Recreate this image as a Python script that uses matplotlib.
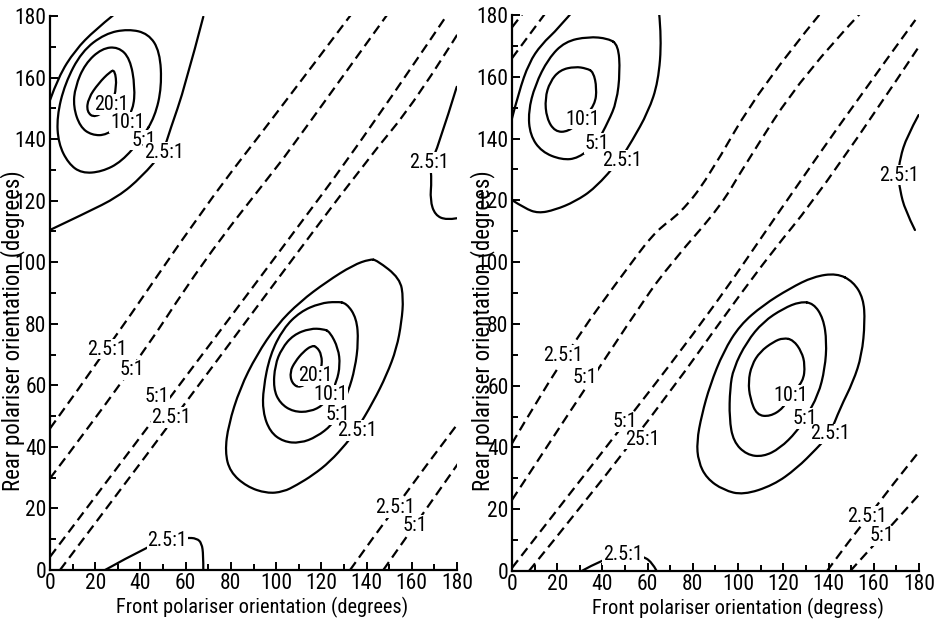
import numpy as np
import matplotlib
matplotlib.use("Agg")
import matplotlib.pyplot as plt
from matplotlib import font_manager as fm
from matplotlib.path import Path
from matplotlib.patches import PathPatch

plt.rcParams["lines.scale_dashes"] = False


def pick_narrow_font():
    """Prefer a narrow sans face for the lettering; fall back to DejaVu Sans."""
    wanted = ("Liberation Sans Narrow", "Roboto Condensed", "Open Sans Condensed",
              "DejaVu Sans Condensed", "Noto Sans Condensed")
    entries = fm.fontManager.ttflist
    names = {f.name for f in entries}
    for w in wanted:
        if w in names:
            return w, "normal"
    for f in entries:
        if (f.stretch in ("condensed", "semi-condensed") and f.style == "normal"
                and f.weight in (400, "normal", "regular")
                and any(k in f.name for k in ("Sans", "Roboto", "Lato", "Inter"))
                and "Mono" not in f.name and "CJK" not in f.name):
            return f.name, f.stretch
    return "DejaVu Sans", "normal"


FAMILY, STRETCH = pick_narrow_font()
plt.rcParams["font.family"] = [FAMILY, "DejaVu Sans"]
plt.rcParams["font.stretch"] = STRETCH

# ---------------------------------------------------------------------------
# Contrast-ratio contours, front angle (x) vs rear angle (y), in degrees.
# Solid curves: iso-contrast lines; dashed: inverted-contrast lines
# ---------------------------------------------------------------------------

# ---- left panel -----------------------------------------------------------
L_ring25 = [(144.5, 100.7), (154.8, 94.8), (156.3, 88.3), (155.5, 80.7), (153.3, 72.0),
            (148.9, 63.4), (143.0, 54.7), (135.6, 45.5), (131.2, 41.2), (123.8, 35.2),
            (116.4, 30.9), (109.1, 27.6), (103.2, 25.4), (95.8, 24.9), (87.0, 27.1),
            (79.6, 31.9), (77.4, 38.4), (78.9, 47.1), (84.0, 59.0), (91.4, 69.9),
            (100.3, 79.6), (110.6, 87.2), (122.4, 93.7), (134.1, 99.1), (141.5, 101.0)]
L_ring5 = [(131.2, 86.7), (135.6, 81.8), (136.4, 74.2), (134.9, 65.5), (131.9, 57.9),
           (127.5, 50.6), (124.6, 47.1), (118.0, 43.3), (110.6, 41.2), (103.2, 41.7),
           (97.3, 44.9), (94.1, 51.4), (94.3, 59.0), (97.3, 69.9), (103.2, 78.5),
           (110.6, 83.9), (119.4, 86.7), (126.8, 87.2)]
L_ring10 = [(123.8, 77.4), (127.5, 72.0), (128.3, 66.6), (126.8, 61.2), (123.8, 56.9),
            (120.9, 53.6), (115.0, 51.4), (107.6, 51.4), (101.7, 54.2), (98.8, 59.0),
            (99.5, 66.6), (102.5, 72.0), (107.6, 76.4), (115.0, 78.5), (120.9, 78.3)]
L_ring20 = [(117.9, 72.6), (120.2, 69.9), (120.2, 65.5), (117.2, 62.8), (110.6, 59.0),
            (106.9, 60.7), (106.1, 64.4), (108.4, 67.7), (112.0, 70.9), (115.7, 72.9)]

L_tl20 = [(28.7, 162.5), (29.5, 157.0), (27.3, 151.0), (19.9, 146.8), (16.2, 148.9),
          (16.9, 153.3), (21.4, 158.1), (26.5, 161.9)]
L_tl10 = [(36.8, 149.5), (37.6, 157.0), (35.4, 166.2), (30.2, 170.0), (22.9, 169.5),
          (15.5, 164.5), (11.1, 157.0), (10.3, 150.5), (13.3, 144.0), (18.4, 141.3),
          (25.1, 141.3), (32.4, 145.7)]
L_tl5 = [(46.4, 147.3), (49.4, 157.0), (48.6, 168.5), (43.5, 174.3), (34.6, 175.8),
         (24.3, 174.3), (14.0, 168.5), (6.6, 158.1), (3.0, 147.3), (3.7, 138.6),
         (8.1, 132.1), (14.0, 128.9), (22.9, 129.4), (31.7, 132.7), (40.6, 140.3)]
L_tl25_low = [(0.0, 110.5), (15.5, 115.9), (30.2, 121.3), (40.6, 127.8), (50.1, 135.9),
              (53.1, 143.0), (59.7, 157.0), (67.8, 179.8)]
L_tl25_up = [(0.0, 152.7), (3.7, 160.3), (11.1, 168.9), (19.9, 175.5), (28.0, 180.3)]
L_edge25 = [(179.9, 157.0), (171.7, 137.5), (168.1, 132.1), (168.8, 126.7), (168.1, 120.2),
            (170.3, 115.3), (175.4, 113.7), (179.9, 114.3)]
L_bot25 = [(24.3, 0.0), (44.2, 8.1), (51.6, 9.4), (60.4, 10.5), (64.9, 10.3),
           (67.1, 8.7), (67.8, 4.9), (67.8, 0.0)]

L_dash_a = [(0.0, 46.0), (25.1, 71.5), (69.3, 119.1), (100.3, 148.4), (134.1, 181.4)]
L_dash_b = [(0.0, 29.8), (36.1, 64.7), (67.8, 100.5), (100.3, 131.0), (106.1, 136.5),
            (149.6, 180.9)]
L_dash_c = [(0.0, 4.3), (50.0, 53.0), (100.0, 102.0), (140.0, 141.5), (176.2, 181.0)]
L_dash_d = [(4.4, 0.0), (47.2, 41.7), (94.3, 88.3), (140.1, 133.2), (162.2, 152.7),
            (182.8, 177.1)]
L_dash_e = [(132.7, 0.0), (152.6, 20.6), (179.9, 47.1)]
L_dash_f = [(147.4, 0.0), (161.4, 14.6), (180.6, 34.7)]

L_labels = [("20:1", 27.3, 151.3), ("10:1", 34.2, 145.5), ("5:1", 41.4, 139.7),
            ("2.5:1", 50.4, 135.7), ("2.5:1", 167.6, 132.5),
            ("20:1", 117.5, 63.1), ("10:1", 124.0, 56.9), ("5:1", 127.5, 50.4),
            ("2.5:1", 135.6, 45.3),
            ("2.5:1", 25.1, 71.8), ("5:1", 36.3, 65.0), ("5:1", 47.2, 56.3),
            ("2.5:1", 53.7, 49.6), ("2.5:1", 51.9, 9.5),
            ("2.5:1", 152.6, 20.4), ("5:1", 161.4, 14.4)]

# ---- right panel ----------------------------------------------------------
R_ring25 = [(150.9, 93.7), (155.4, 88.3), (156.1, 80.7), (154.7, 69.9), (150.9, 61.3),
            (145.1, 52.7), (140.6, 44.3), (134.8, 39.7), (125.9, 33.2), (115.6, 27.8),
            (102.3, 24.6), (93.5, 26.2), (86.1, 30.0), (82.4, 35.4), (81.7, 41.9),
            (83.9, 50.5), (87.6, 60.2), (93.5, 71.0), (100.8, 79.6), (111.1, 86.1),
            (122.9, 91.5), (133.3, 95.3), (143.6, 96.4)]
R_ring5 = [(133.3, 86.7), (137.7, 81.8), (139.2, 74.2), (138.4, 65.6), (135.5, 57.0),
           (129.6, 49.4), (125.9, 45.1), (118.5, 39.7), (111.1, 37.0), (103.8, 37.6),
           (97.9, 41.9), (96.1, 49.4), (96.4, 59.1), (97.9, 65.6), (103.8, 74.2),
           (111.1, 80.7), (120.0, 85.0), (127.4, 87.2)]
R_ring10 = [(124.4, 74.8), (128.1, 71.0), (129.6, 66.7), (128.8, 61.3), (122.9, 57.0),
            (120.0, 52.7), (114.1, 50.0), (108.2, 50.5), (105.3, 55.9), (104.5, 61.3),
            (106.0, 66.7), (109.7, 71.0), (115.6, 74.2), (120.0, 75.5)]

R_tl10 = [(36.0, 161.6), (37.5, 156.3), (36.7, 150.9), (30.8, 146.0), (24.9, 142.2),
          (19.0, 142.2), (15.3, 146.6), (14.6, 153.0), (16.8, 158.4), (21.2, 162.2),
          (27.9, 163.3), (33.0, 162.7)]
R_tl5 = [(47.0, 170.3), (47.8, 161.6), (46.3, 151.9), (42.6, 145.5), (37.5, 138.5),
         (29.3, 133.6), (22.0, 133.1), (13.1, 135.7), (8.0, 141.1), (7.2, 148.7),
         (10.2, 157.3), (16.1, 165.9), (23.4, 171.4), (33.7, 173.0), (42.6, 172.4)]
R_tl25_low = [(0.0, 120.1), (5.7, 117.4), (11.6, 115.8), (19.0, 116.9), (27.9, 119.6),
              (36.7, 123.9), (47.8, 133.1), (52.9, 139.0), (60.3, 148.7), (64.7, 158.4),
              (66.2, 172.4), (65.0, 181.1)]
R_tl25_up = [(0.0, 146.5), (3.0, 155.0), (7.5, 164.5), (13.0, 170.5), (20.5, 175.6),
             (28.6, 182.7)]
R_edge25 = [(179.8, 147.6), (174.6, 140.6), (171.6, 133.6), (170.8, 128.2), (171.6, 123.3),
            (173.8, 116.9), (178.2, 110.4)]
R_bot25 = [(30.8, 0.0), (39.7, 3.6), (49.2, 5.4), (57.4, 4.9), (61.8, 3.0), (64.0, 0.0)]

R_dash_a = [(0.0, 41.3), (22.7, 69.6), (53.6, 100.7), (64.1, 110.4), (74.4, 115.8),
            (86.2, 126.6), (109.8, 156.8), (136.4, 180.5)]
R_dash_b = [(0.0, 23.0), (56.0, 85.6), (71.5, 100.7), (92.1, 117.9), (102.5, 130.9),
            (129.0, 161.1), (154.0, 180.5)]
R_dash_c = [(0.0, 1.0), (40.0, 38.5), (87.0, 83.0), (118.7, 117.0), (152.6, 152.5),
            (178.4, 178.4)]
R_dash_d = [(7.5, 0.0), (57.5, 45.0), (108.4, 97.5), (139.3, 125.0), (179.9, 169.7)]
R_dash_e = [(139.3, 0.0), (157.0, 17.6), (180.6, 39.2)]
R_dash_f = [(149.6, 0.0), (163.6, 11.3), (180.6, 25.2)]
R_dash_wrap1 = [(0.0, 176.0), (4.8, 180.5)]
R_dash_wrap2 = [(0.0, 166.0), (14.7, 180.5)]

R_labels = [("10:1", 31.4, 146.3), ("5:1", 37.7, 138.5), ("2.5:1", 48.5, 132.8),
            ("2.5:1", 171.0, 128.2),
            ("10:1", 123.1, 56.8), ("5:1", 129.6, 49.4), ("2.5:1", 140.6, 44.4),
            ("2.5:1", 22.6, 69.7), ("5:1", 32.1, 62.8), ("5:1", 50.0, 48.3),
            ("25:1", 57.5, 42.7), ("2.5:1", 49.0, 5.2),
            ("2.5:1", 157.0, 17.8), ("5:1", 163.6, 11.4)]

X_TICKS = list(range(0, 181, 20))
Y_TICKS = list(range(0, 181, 20))
X_LABELS = ["Front polariser orientation (degrees)", "Front polariser orientation (degress)"]
Y_LABEL = "Rear polariser orientation (degrees)"

LW = 1.6
DASH = (0, (7.0, 4.0))


def smooth_path(pts, closed):
    """Quadratic B-spline through the traced vertices (midpoints on-curve)."""
    p = np.asarray(pts, float)
    n = len(p)
    if closed:
        mid = (p + np.roll(p, -1, axis=0)) / 2.0
        verts = [mid[-1]]
        codes = [Path.MOVETO]
        for i in range(n):
            verts += [p[i], mid[i]]
            codes += [Path.CURVE3, Path.CURVE3]
        return Path(verts, codes)
    verts = [p[0]]
    codes = [Path.MOVETO]
    if n == 2:
        verts.append(p[1])
        codes.append(Path.LINETO)
        return Path(verts, codes)
    for i in range(1, n - 2):
        verts += [p[i], (p[i] + p[i + 1]) / 2.0]
        codes += [Path.CURVE3, Path.CURVE3]
    verts += [p[n - 2], p[n - 1]]
    codes += [Path.CURVE3, Path.CURVE3]
    return Path(verts, codes)


def solid(ax, pts, closed=False):
    ax.add_patch(PathPatch(smooth_path(pts, closed), fill=False, lw=LW,
                           edgecolor="black", capstyle="round", joinstyle="round"))


def dashed(ax, pts):
    ax.add_patch(PathPatch(smooth_path(pts, False), fill=False, lw=LW,
                           edgecolor="black", ls=DASH, capstyle="butt"))


def style_axes(ax, xlabel, xl_pos, yl_pos):
    ax.set_xlim(0, 180)
    ax.set_ylim(0, 180)
    for s in ("top", "right"):
        ax.spines[s].set_visible(False)
    for s in ("left", "bottom"):
        ax.spines[s].set_linewidth(LW)
    ax.set_xticks(X_TICKS)
    ax.set_yticks(Y_TICKS)
    ax.set_xticks(range(0, 181, 10), minor=True)
    ax.set_yticks(range(0, 181, 10), minor=True)
    ax.tick_params(which="major", direction="in", length=6, width=1.4,
                   labelsize=15.5, pad=2)
    ax.tick_params(which="minor", direction="in", length=4.5, width=1.4)
    ax.tick_params(axis="y", pad=2.5)
    ax.text(xl_pos, -0.068, xlabel, transform=ax.transAxes, ha="center",
            va="center", fontsize=14.7)
    ax.text(yl_pos, 0.432, Y_LABEL, transform=ax.transAxes, ha="center",
            va="center", rotation=90, fontsize=16.5)


def put_labels(ax, labels):
    for txt, x, y in labels:
        ax.text(x, y, txt, ha="center", va="center", fontsize=14.5, zorder=5,
                bbox=dict(boxstyle="square,pad=0.04", fc="white", ec="none"))


fig = plt.figure(figsize=(9.37, 6.20), dpi=100)
axL = fig.add_axes([0.0534, 0.0806, 0.4343, 0.8935])
axR = fig.add_axes([0.5464, 0.0790, 0.4344, 0.8968])

# left panel
for ring in (L_ring25, L_ring5, L_ring10, L_ring20, L_tl20, L_tl10, L_tl5):
    solid(axL, ring, closed=True)
for arc in (L_tl25_low, L_tl25_up, L_edge25, L_bot25):
    solid(axL, arc)
for line in (L_dash_a, L_dash_b, L_dash_c, L_dash_d, L_dash_e, L_dash_f):
    dashed(axL, line)
put_labels(axL, L_labels)
style_axes(axL, X_LABELS[0], 0.522, -0.093)

# right panel
for ring in (R_ring25, R_ring5, R_ring10, R_tl10, R_tl5):
    solid(axR, ring, closed=True)
for arc in (R_tl25_low, R_tl25_up, R_edge25, R_bot25):
    solid(axR, arc)
for line in (R_dash_a, R_dash_b, R_dash_c, R_dash_d, R_dash_e, R_dash_f,
             R_dash_wrap1, R_dash_wrap2):
    dashed(axR, line)
put_labels(axR, R_labels)
style_axes(axR, X_LABELS[1], 0.555, -0.072)

fig.savefig("out.png", dpi=100, facecolor="white")
